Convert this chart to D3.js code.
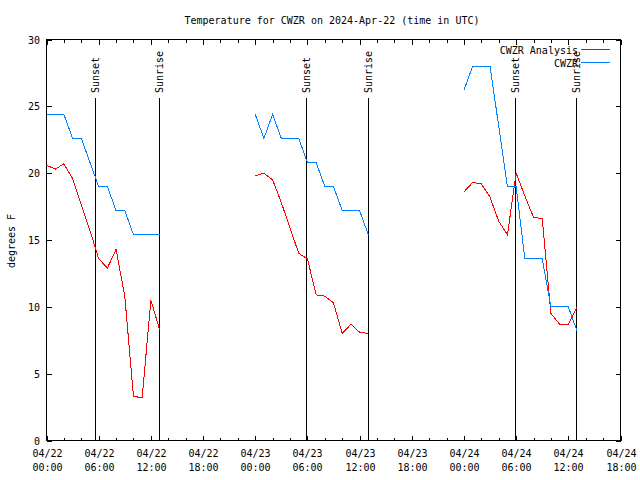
<!DOCTYPE html>
<html><head><meta charset="utf-8">
<script src="https://cdn.jsdelivr.net/npm/d3@7"></script>
<style>
body{margin:0;background:#fff;}
text{font-family:"DejaVu Sans Mono",monospace;font-size:10px;fill:#000;}
</style></head>
<body><svg id="c" width="640" height="480"></svg>
<script>
// hours since 2024-04-22 00:00 UTC
const hours = [0,1,2,3,4,5,6,7,8,9,10,11,12,13,
  24,25,26,27,28,29,30,31,32,33,34,35,36,37,
  48,49,50,51,52,53,54,55,56,57,58,59,60,61];
const analysis = [20.6,20.3,20.7,19.6,17.6,15.7,13.6,12.9,14.3,10.8,3.3,3.2,10.5,8.3,
  19.8,20.0,19.5,17.8,15.9,14.0,13.6,10.9,10.8,10.3,8.0,8.7,8.1,8.0,
  18.6,19.3,19.2,18.2,16.4,15.4,20.0,18.3,16.7,16.6,9.5,8.7,8.7,10.0];
const observed = [24.4,24.4,24.4,22.6,22.6,20.8,19.0,19.0,17.2,17.2,15.4,15.4,15.4,15.4,
  24.4,22.6,24.4,22.6,22.6,22.6,20.8,20.8,19.0,19.0,17.2,17.2,17.2,15.4,
  26.2,28.0,28.0,28.0,23.5,19.0,19.0,13.6,13.6,13.6,10.0,10.0,10.0,8.2];
const sunsetHours = [5.6, 29.8, 53.83];
const sunriseHours = [12.97, 37.0, 60.92];
const yTicks = [0,5,10,15,20,25,30];
const xMajorHours = [0,6,12,18,24,30,36,42,48,54,60,66];
const seriesNames = ["CWZR Analysis","CWZR"];
const title = "Temperature for CWZR on 2024-Apr-22 (time in UTC)";
const yLabel = "degrees F";

const t0 = Date.UTC(2024,3,22,0,0);
const toDate = h => new Date(t0 + h*3600000);

const svg = d3.select("#c");
const L=46.5, R=620.5, T=39.5, B=440.5;
const x = d3.scaleUtc().domain([toDate(0), toDate(66)]).range([L,R]);
const y = d3.scaleLinear().domain([0,30]).range([B,T]);
const fmt = d3.utcFormat("%m/%d"), fmt2 = d3.utcFormat("%H:%M");

const g = svg.append("g").attr("shape-rendering","crispEdges");

// border
g.append("rect").attr("x",L).attr("y",T).attr("width",R-L).attr("height",B-T)
  .attr("fill","none").attr("stroke","#000");

// x ticks
const minorHours = d3.range(0,67,2).filter(h=>h%6!==0);
minorHours.forEach(h=>{
  const xx=Math.round(x(toDate(h)))+0.5;
  g.append("line").attr("x1",xx).attr("x2",xx).attr("y1",B).attr("y2",B-3).attr("stroke","#000");
  g.append("line").attr("x1",xx).attr("x2",xx).attr("y1",T).attr("y2",T+3).attr("stroke","#000");
});
xMajorHours.forEach(h=>{
  const xx=Math.round(x(toDate(h)))+0.5;
  g.append("line").attr("x1",xx).attr("x2",xx).attr("y1",B).attr("y2",B-5).attr("stroke","#000");
  g.append("line").attr("x1",xx).attr("x2",xx).attr("y1",T).attr("y2",T+5).attr("stroke","#000");
  svg.append("text").attr("x",xx).attr("y",457).attr("text-anchor","middle").text(fmt(toDate(h)));
  svg.append("text").attr("x",xx).attr("y",471).attr("text-anchor","middle").text(fmt2(toDate(h)));
});
// y ticks
yTicks.forEach(v=>{
  const yy=Math.round(y(v))+0.5;
  g.append("line").attr("x1",L).attr("x2",L+5).attr("y1",yy).attr("y2",yy).attr("stroke","#000");
  g.append("line").attr("x1",R).attr("x2",R-5).attr("y1",yy).attr("y2",yy).attr("stroke","#000");
  svg.append("text").attr("x",40).attr("y",yy).attr("dy","0.35em").attr("text-anchor","end").text(v);
});

// sun lines
function sunLine(h,label){
  const xx=Math.round(x(toDate(h)))+0.5;
  g.append("line").attr("x1",xx).attr("x2",xx).attr("y1",B).attr("y2",98).attr("stroke","#000");
  svg.append("text").attr("transform",`translate(${xx},93) rotate(-90)`).attr("dy","0.35em")
    .attr("text-anchor","start").text(label);
}
sunsetHours.forEach(h=>sunLine(h,"Sunset"));
sunriseHours.forEach(h=>sunLine(h,"Sunrise"));

// series
function segments(vals){
  const segs=[]; let cur=[];
  hours.forEach((h,i)=>{
    if(i>0 && h-hours[i-1]>1){segs.push(cur);cur=[];}
    cur.push([h,vals[i]]);
  });
  segs.push(cur); return segs;
}
const line = d3.line().x(d=>x(toDate(d[0]))).y(d=>y(d[1]));
[[analysis,"#ff0000"],[observed,"#0080ff"]].forEach(([vals,col])=>{
  segments(vals).forEach(s=>{
    g.append("path").attr("d",line(s)).attr("fill","none").attr("stroke",col).attr("stroke-width",1);
  });
});

// legend
[["#ff0000",49],["#0080ff",62]].forEach(([col,ly],i)=>{
  svg.append("text").attr("x",578).attr("y",ly+1).attr("dy","0.35em").attr("text-anchor","end").text(seriesNames[i]);
  g.append("line").attr("x1",581).attr("x2",610).attr("y1",ly+0.5).attr("y2",ly+0.5).attr("stroke",col);
});

// title & y label
svg.append("text").attr("x",332).attr("y",20).attr("dy","0.35em").attr("text-anchor","middle").text(title);
svg.append("text").attr("transform","translate(11,241) rotate(-90)").attr("dy","0.35em")
  .attr("text-anchor","middle").text(yLabel);
</script></body></html>
